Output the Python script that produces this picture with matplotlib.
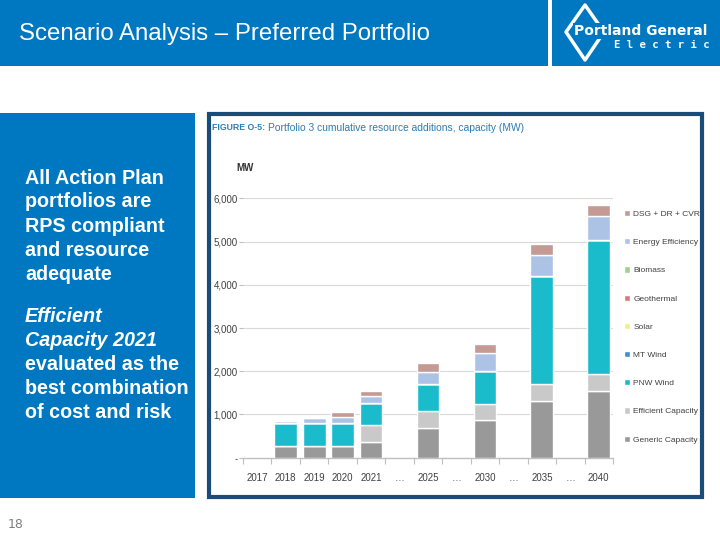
import matplotlib
matplotlib.use("Agg")
import matplotlib.pyplot as plt
from matplotlib.patches import Rectangle, Polygon

# Slide size in pixels
W, H = 720, 540

# Chart data (MW, cumulative)
slots = ["2017", "2018", "2019", "2020", "2021", "…", "2025", "…",
         "2030", "…", "2035", "…", "2040"]
bar_years = ["2017", "2018", "2019", "2020", "2021", "2025", "2030", "2035", "2040"]
generic_cap = [30, 277, 277, 277, 354, 694, 871, 1311, 1534]
efficient_cap = [0, 0, 0, 0, 408, 385, 363, 393, 394]
pnw_wind = [0, 515, 531, 531, 507, 625, 771, 2498, 3107]
mt_wind = [0, 0, 0, 0, 0, 0, 0, 0, 0]
solar = [0, 0, 0, 0, 0, 0, 0, 0, 0]
geothermal = [0, 0, 0, 0, 0, 0, 0, 0, 0]
biomass = [0, 0, 0, 0, 0, 0, 0, 0, 0]
energy_eff = [0, 54, 115, 138, 162, 285, 408, 486, 547]
dsg_dr_cvr = [0, 0, 0, 108, 115, 208, 224, 262, 270]

y_ticks = [0, 1000, 2000, 3000, 4000, 5000, 6000]
y_tick_labels = ["-", "1,000", "2,000", "3,000", "4,000", "5,000", "6,000"]

# Stack order bottom -> top
layers = [
    ("Generic Capacity", generic_cap, "#999999"),
    ("Efficient Capacity", efficient_cap, "#c9c9c9"),
    ("PNW Wind", pnw_wind, "#1abccb"),
    ("MT Wind", mt_wind, "#3f8fcf"),
    ("Solar", solar, "#f3ee86"),
    ("Geothermal", geothermal, "#d9787a"),
    ("Biomass", biomass, "#9fd08f"),
    ("Energy Efficiency", energy_eff, "#adc3e6"),
    ("DSG + DR + CVR", dsg_dr_cvr, "#c39a94"),
]

BLUE = "#0078c1"
NAVY = "#1b4c78"
TXT = "#404040"
NARROW = ["Liberation Sans Narrow", "Liberation Sans", "DejaVu Sans"]


def fx(px):
    return px / W


def fy(py):
    return 1 - py / H


def box(x0, y0, x1, y1, **kw):
    # rectangle in pixel coords (top-left origin), drawn behind the axes
    r = Rectangle((fx(x0), fy(y1)), fx(x1 - x0), (y1 - y0) / H,
                  transform=fig.transFigure, zorder=-1, **kw)
    fig.patches.append(r)


fig = plt.figure(figsize=(7.2, 5.4), dpi=100)
fig.patch.set_facecolor("white")

# Header bars
box(0, 0, 548, 66, facecolor=BLUE, edgecolor="none")
box(552, 0, 720, 66, facecolor=BLUE, edgecolor="none")
fig.text(fx(19), fy(34), "Scenario Analysis \u2013 Preferred Portfolio", color="white",
         fontsize=17.3, family="Liberation Sans", va="center", ha="left")

# Logo
diamond = Polygon([(fx(585), fy(5)), (fx(604), fy(32)), (fx(585), fy(60)), (fx(566), fy(32))],
                  closed=True, transform=fig.transFigure, facecolor="none",
                  edgecolor="white", linewidth=2.5, joinstyle="round", zorder=-0.5)
fig.patches.append(diamond)
fig.text(fx(574), fy(31), "Portland General", color="white", fontsize=10,
         fontweight="heavy", family="DejaVu Sans", va="center", ha="left",
         bbox=dict(facecolor=BLUE, edgecolor="none", pad=0.5))
fig.text(fx(710), fy(45), "E l e c t r i c", color="white", fontsize=7.7,
         fontweight="bold", family="DejaVu Sans Mono", va="center", ha="right")

# Left panel
box(0, 113, 195, 498, facecolor=BLUE, edgecolor="none")
left_lines = [
    ("All Action Plan", "normal", 178),
    ("portfolios are", "normal", 202),
    ("RPS compliant", "normal", 226),
    ("and resource", "normal", 250),
    ("adequate", "normal", 274),
    ("Efficient", "italic", 316),
    ("Capacity 2021", "italic", 340),
    ("evaluated as the", "normal", 364),
    ("best combination", "normal", 388),
    ("of cost and risk", "normal", 412),
]
for txt, style, ypx in left_lines:
    fig.text(fx(25), fy(ypx), txt, color="white", fontsize=14.2, fontweight="bold",
             fontstyle=style, family="Liberation Sans", va="center", ha="left")

fig.text(fx(8), fy(524), "18", color="#7f7f7f", fontsize=9, family="DejaVu Sans",
         va="center", ha="left")

# Chart frame
box(209, 114, 702, 497, facecolor="white", edgecolor=NAVY, linewidth=3)
fig.text(fx(212), fy(128), "FIGURE O-5:", color="#2b7db5", fontsize=6.3,
         fontweight="bold", family="Liberation Sans", va="center", ha="left")
fig.text(fx(268), fy(128), "Portfolio 3 cumulative resource additions, capacity (MW)",
         color="#2b7db5", fontsize=7.4, family=NARROW, va="center", ha="left")
fig.text(fx(236), fy(168), "MW", color="#333333", fontsize=7, fontweight="bold",
         family="Liberation Sans", va="center", ha="left")

# Chart axes
ax = fig.add_axes([fx(243), fy(457.7), fx(613 - 243), (457.7 - 198.3) / H])
ax.patch.set_visible(False)
ax.set_xlim(0, len(slots))
ax.set_ylim(0, 6000)

positions = [slots.index(y) + 0.5 for y in bar_years]
bottoms = [0] * len(bar_years)
for name, vals, color in layers:
    ax.bar(positions, vals, width=0.8, bottom=bottoms, color=color,
           edgecolor="white", linewidth=1.0, zorder=3, label=name)
    bottoms = [b + v for b, v in zip(bottoms, vals)]

for s in ["top", "right", "left"]:
    ax.spines[s].set_visible(False)
ax.spines["bottom"].set_color("#bfbfbf")
ax.spines["bottom"].set_linewidth(1)
ax.set_yticks(y_ticks)
ax.set_yticklabels(y_tick_labels)
ax.yaxis.grid(True, color="#d9d9d9", linewidth=0.8, zorder=0)
ax.tick_params(axis="y", length=3, color="#bfbfbf", labelsize=7, labelcolor=TXT, pad=1)
ax.set_xticks(range(len(slots) + 1))
ax.set_xticklabels([])
ax.set_xticks([i + 0.5 for i in range(len(slots))], minor=True)
ax.set_xticklabels(slots, minor=True)
ax.tick_params(axis="x", which="major", length=4, color="#bfbfbf")
ax.tick_params(axis="x", which="minor", length=0, labelsize=7, labelcolor=TXT, pad=11)
for lbl in ax.get_xticklabels(minor=True) + ax.get_yticklabels():
    lbl.set_family(NARROW)
ax.set_axisbelow(True)

# Legend, top entry first
handles, labels = ax.get_legend_handles_labels()
leg = fig.legend(handles[::-1], labels[::-1], loc="upper left",
                 bbox_to_anchor=(fx(624), fy(210)), frameon=False,
                 fontsize=6, handlelength=0.75, handleheight=0.75, handletextpad=0.35,
                 labelspacing=2.43, borderaxespad=0, borderpad=0)
for t in leg.get_texts():
    t.set_color(TXT)
    t.set_family(NARROW)

fig.savefig("out.png", dpi=100)
